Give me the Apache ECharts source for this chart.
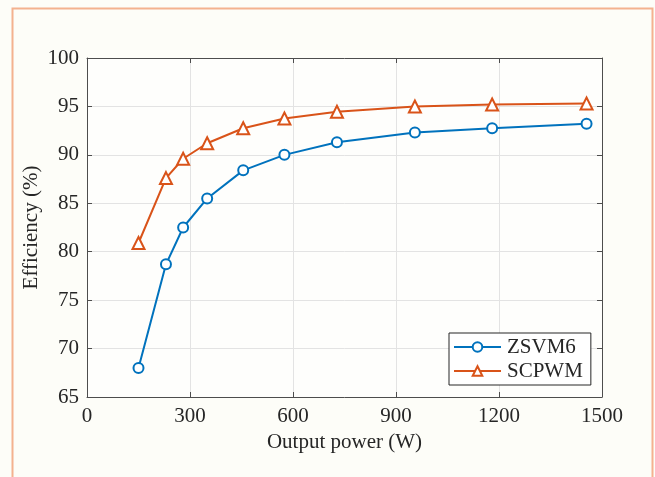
<!DOCTYPE html>
<html>
<head>
<meta charset="utf-8">
<script src="https://cdn.jsdelivr.net/npm/echarts@6/dist/echarts.min.js"></script>
<style>
html,body{margin:0;padding:0;background:#fdfdf8;}
#c{width:655px;height:477px;}
</style>
</head>
<body>
<div id="c"></div>
<script>
const outputPower = [150, 230, 280, 350, 455, 575, 728, 955, 1180, 1455];
const zsvm6 = [68.0, 78.7, 82.5, 85.5, 88.4, 90.0, 91.3, 92.3, 92.75, 93.2];
const scpwm = [80.9, 87.6, 89.6, 91.2, 92.75, 93.75, 94.45, 95.0, 95.2, 95.3];
const seriesNames = ['ZSVM6', 'SCPWM'];
const xTitle = 'Output power (W)';
const yTitle = 'Efficiency (%)';

const font = '"Liberation Serif", "Times New Roman", serif';
const txt = '#262626';
const axisCol = '#4d4d4d';
const pairs = (xs, ys) => xs.map((x, i) => [x, ys[i]]);

const chart = echarts.init(document.getElementById('c'), null, {renderer: 'canvas'});
const baseX = {
  type: 'value', min: 0, max: 1500, interval: 300,
  axisLine: {show: true, onZero: false, lineStyle: {color: axisCol, width: 1}},
  axisTick: {show: true, inside: true, length: 5, lineStyle: {color: axisCol}},
};
const baseY = {
  type: 'value', min: 65, max: 100, interval: 5,
  axisLine: {show: true, onZero: false, lineStyle: {color: axisCol, width: 1}},
  axisTick: {show: true, inside: true, length: 5, lineStyle: {color: axisCol}},
};
chart.setOption({
  backgroundColor: '#fdfdf8',
  animation: false,
  graphic: [{
    type: 'rect', shape: {x: 12.5, y: 8.5, width: 640, height: 480},
    style: {fill: null, stroke: '#f4b28f', lineWidth: 2}, silent: true, z: -1
  }],
  grid: {left: 87, right: 53, top: 58, bottom: 80, show: true, backgroundColor: '#fefefc', borderWidth: 0},
  xAxis: [
    Object.assign({}, baseX, {
      position: 'bottom',
      name: xTitle, nameLocation: 'middle', nameGap: 33,
      nameTextStyle: {fontFamily: font, fontSize: 21, color: txt},
      axisLabel: {fontFamily: font, fontSize: 21, color: txt, margin: 9, formatter: v => String(v)},
      splitLine: {show: true, lineStyle: {color: '#e3e3e3', width: 1}}
    }),
    Object.assign({}, baseX, {
      position: 'top', axisLabel: {show: false}, splitLine: {show: false}
    })
  ],
  yAxis: [
    Object.assign({}, baseY, {
      position: 'left',
      name: yTitle, nameLocation: 'middle', nameGap: 45, nameMoveOverlap: false,
      nameTextStyle: {fontFamily: font, fontSize: 21, color: txt},
      axisLabel: {fontFamily: font, fontSize: 21, color: txt, margin: 8, formatter: v => String(v)},
      splitLine: {show: true, lineStyle: {color: '#e3e3e3', width: 1}}
    }),
    Object.assign({}, baseY, {
      position: 'right', axisLabel: {show: false}, splitLine: {show: false}
    })
  ],
  legend: {
    orient: 'vertical', left: 449, top: 333,
    width: 142,
    backgroundColor: '#ffffff',
    borderColor: '#262626', borderWidth: 1,
    padding: [3, 8, 3, 4],
    itemGap: 2,
    itemWidth: 47, itemHeight: 12,
    textStyle: {fontFamily: font, fontSize: 21, color: txt, lineHeight: 22, padding: [0, 0, 0, 1]},
    data: seriesNames
  },
  series: [
    {
      name: seriesNames[0], type: 'line', xAxisIndex: 0, yAxisIndex: 0,
      data: pairs(outputPower, zsvm6),
      symbol: 'circle', symbolSize: 10,
      lineStyle: {color: '#0072BD', width: 2},
      itemStyle: {color: '#ffffff', borderColor: '#0072BD', borderWidth: 2},
      z: 3
    },
    {
      name: seriesNames[1], type: 'line', xAxisIndex: 0, yAxisIndex: 0,
      data: pairs(outputPower, scpwm),
      symbol: 'triangle', symbolSize: 12,
      lineStyle: {color: '#D95319', width: 2},
      itemStyle: {color: '#ffffff', borderColor: '#D95319', borderWidth: 2},
      z: 3
    }
  ]
});
</script>
</body>
</html>
